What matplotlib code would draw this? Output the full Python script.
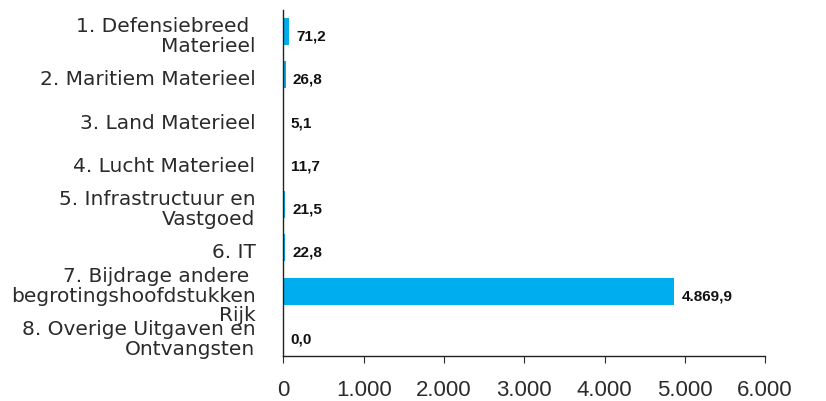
import matplotlib
matplotlib.use("Agg")
import matplotlib.pyplot as plt
import matplotlib.transforms as mtransforms

categories = [
    "1. Defensiebreed \nMaterieel",
    "2. Maritiem Materieel",
    "3. Land Materieel",
    "4. Lucht Materieel",
    "5. Infrastructuur en\nVastgoed",
    "6. IT",
    "7. Bijdrage andere \nbegrotingshoofdstukken\nRijk",
    "8. Overige Uitgaven en\nOntvangsten",
]
values = [71.2, 26.8, 5.1, 11.7, 21.5, 22.8, 4869.9, 0.0]
value_labels = ["71,2", "26,8", "5,1", "11,7", "21,5", "22,8", "4.869,9", "0,0"]
xticks = [0, 1000, 2000, 3000, 4000, 5000, 6000]
xtick_labels = ["0", "1.000", "2.000", "3.000", "4.000", "5.000", "6.000"]

plt.rcParams['font.family'] = ['Liberation Sans', 'DejaVu Sans']

fig = plt.figure(figsize=(8.26, 4.01), dpi=100)
ax = fig.add_axes([0.3432, 0.1122, 0.9262 - 0.3432, 0.975 - 0.1122])

color = '#00aeef'
ypos = list(range(len(categories)))
ax.barh(ypos, values, height=0.62, color=color, zorder=2)
ax.set_ylim(len(categories) - 0.5, -0.5)
ax.set_xlim(0, 6000)

down = mtransforms.ScaledTranslation(7 / 100, -5 / 100, fig.dpi_scale_trans)
for y, v, lab in zip(ypos, values, value_labels):
    ax.text(v, y, lab, ha='left', va='center', fontsize=11, color='#111111',
            fontweight='bold', transform=ax.transData + down)

ax.set_yticks(ypos)
ax.set_yticklabels([])
lab_off = mtransforms.ScaledTranslation(-28 / 100, -5 / 100, fig.dpi_scale_trans)
for y, c in zip(ypos, categories):
    ax.text(0, y, c, ha='right', va='center', multialignment='right',
            fontsize=14.5, color='#2b2b2b', linespacing=1.02,
            family=['DejaVu Sans'],
            transform=ax.get_yaxis_transform() + lab_off)
ax.tick_params(axis='y', length=0)

ax.set_xticks(xticks)
ax.set_xticklabels(xtick_labels)
ax.tick_params(axis='x', length=5, width=0.8, pad=12, labelsize=16,
               colors='#2b2b2b', direction='out')

for s in ['top', 'right']:
    ax.spines[s].set_visible(False)
for s in ['left', 'bottom']:
    ax.spines[s].set_color('#222222')
    ax.spines[s].set_linewidth(1.0)

fig.savefig("out.png", dpi=100)
